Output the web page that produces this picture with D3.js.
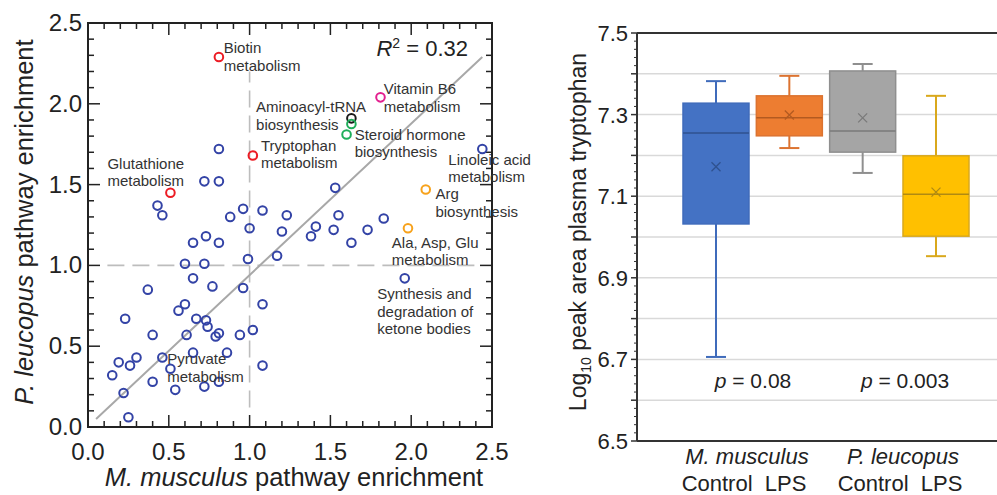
<!DOCTYPE html>
<html><head><meta charset="utf-8">
<script src="https://cdn.jsdelivr.net/npm/d3@7"></script>
<style>
html,body{margin:0;padding:0;background:#fff;}
svg{display:block;font-family:"Liberation Sans",Arial,Helvetica,sans-serif;}
</style></head>
<body><svg id="c" width="997" height="495"></svg>
<script>
// ---------- Left panel data: pathway enrichment ----------
const scatterX = [0.81,1.81,1.63,1.63,1.60,1.02,0.51,2.09,1.98,2.44,1.96,
  0.81,0.72,0.81,1.53,0.43,0.46,0.88,0.96,1.08,1.23,1.00,1.20,0.65,0.73,0.81,1.38,1.41,1.52,1.55,1.63,1.73,1.83,
  0.60,0.72,0.99,1.17,0.65,0.77,0.37,0.96,1.08,0.23,0.56,0.60,0.67,0.73,0.74,0.40,0.61,0.79,0.81,0.94,1.02,
  0.19,0.26,0.30,0.46,0.65,0.86,0.51,1.08,0.15,0.40,0.54,0.72,0.81,0.22,0.25];
const scatterY = [2.29,2.04,1.91,1.875,1.81,1.68,1.45,1.47,1.23,1.72,0.92,
  1.72,1.52,1.52,1.48,1.37,1.31,1.30,1.35,1.34,1.31,1.23,1.21,1.14,1.18,1.14,1.18,1.24,1.22,1.31,1.14,1.22,1.29,
  1.01,1.01,1.04,1.06,0.92,0.87,0.85,0.86,0.76,0.67,0.72,0.76,0.67,0.66,0.62,0.57,0.57,0.56,0.58,0.57,0.60,
  0.40,0.38,0.43,0.43,0.46,0.46,0.36,0.38,0.32,0.28,0.23,0.25,0.28,0.21,0.06];
const scatterGroup = ["red","magenta","black","green","green","red","red","orange","orange","blue","blue"]
  .concat(new Array(58).fill("blue"));
const fitLineX = [0.05, 2.44];
const fitLineY = [0.05, 2.29];
const refValue = 1.0;
const rSquared = "0.32";
const scatterTicks = [0, 0.5, 1.0, 1.5, 2.0, 2.5];
const labelText = [["Biotin","metabolism"],["Vitamin B6","metabolism"],["Aminoacyl-tRNA","biosynthesis"],
  ["Steroid hormone","biosynthesis"],["Tryptophan","metabolism"],["Glutathione","metabolism"],
  ["Linoleic acid","metabolism"],["Arg","biosynthesis"],["Ala, Asp, Glu","metabolism"],
  ["Synthesis and","degradation of","ketone bodies"],["Pyruvate","metabolism"]];
const labelX = [0.84,1.83,1.04,1.65,1.07,0.12,2.23,2.15,1.88,1.79,0.49];
const labelY = [2.345,2.09,1.98,1.81,1.74,1.63,1.655,1.44,1.14,0.82,0.42];

// ---------- Right panel data: plasma tryptophan ----------
const boxCats = ["M. musculus Control","M. musculus LPS","P. leucopus Control","P. leucopus LPS"];
const whiskLow  = [6.706, 7.218, 7.157, 6.953];
const q1        = [7.032, 7.248, 7.208, 7.002];
const median    = [7.255, 7.292, 7.260, 7.105];
const q3        = [7.328, 7.346, 7.407, 7.199];
const whiskHigh = [7.382, 7.395, 7.424, 7.346];
const meanVal   = [7.172, 7.299, 7.292, 7.110];
const boxTicks = [6.5, 6.7, 6.9, 7.1, 7.3, 7.5];
const pValues = ["0.08", "0.003"];
const species = ["M. musculus", "P. leucopus"];
const treatments = ["Control", "LPS"];

// ---------- Drawing ----------
const svg = d3.select("#c");
const font = "#222";

// ===== Left panel =====
const x = d3.scaleLinear().domain([0, 2.5]).range([88, 492]);
const y = d3.scaleLinear().domain([0, 2.5]).range([427, 23]);
const L = svg.append("g");

const colorMap = {blue:"#3343a6", red:"#ec1c24", magenta:"#e3208f", black:"#1a1a1a", green:"#1fae5a", orange:"#f7a21c"};

// dashed reference lines
L.append("line").attr("x1", x(0.12)).attr("x2", x(2.4)).attr("y1", y(refValue)).attr("y2", y(refValue))
  .attr("stroke", "#bdbdbd").attr("stroke-width", 1.6).attr("stroke-dasharray", "17,8");
L.append("line").attr("x1", x(refValue)).attr("x2", x(refValue)).attr("y1", y(0.12)).attr("y2", y(2.2))
  .attr("stroke", "#bdbdbd").attr("stroke-width", 1.6).attr("stroke-dasharray", "17,8");

// fit line
L.append("line").attr("x1", x(fitLineX[0])).attr("y1", y(fitLineY[0]))
  .attr("x2", x(fitLineX[1])).attr("y2", y(fitLineY[1]))
  .attr("stroke", "#a8a8a8").attr("stroke-width", 2);

// frame ticks (inward, all sides)
const minor = d3.range(0, 2.5001, 0.1).map(v => +v.toFixed(2));
const isMajor = v => Math.abs(v * 2 - Math.round(v * 2)) < 1e-6;
minor.forEach(v => {
  const len = isMajor(v) ? 12 : 6;
  L.append("line").attr("x1", x(v)).attr("x2", x(v)).attr("y1", y(0)).attr("y2", y(0) - len).attr("stroke", font).attr("stroke-width", 1.5);
  L.append("line").attr("x1", x(v)).attr("x2", x(v)).attr("y1", y(2.5)).attr("y2", y(2.5) + len).attr("stroke", font).attr("stroke-width", 1.5);
  L.append("line").attr("y1", y(v)).attr("y2", y(v)).attr("x1", x(0)).attr("x2", x(0) + len).attr("stroke", font).attr("stroke-width", 1.5);
  L.append("line").attr("y1", y(v)).attr("y2", y(v)).attr("x1", x(2.5)).attr("x2", x(2.5) - len).attr("stroke", font).attr("stroke-width", 1.5);
});
L.append("rect").attr("x", x(0)).attr("y", y(2.5)).attr("width", x(2.5) - x(0)).attr("height", y(0) - y(2.5))
  .attr("fill", "none").attr("stroke", font).attr("stroke-width", 2);

// tick labels
scatterTicks.forEach(v => {
  L.append("text").attr("x", x(v)).attr("y", y(0) + 33).attr("text-anchor", "middle")
    .attr("font-size", 24).attr("fill", font).text(v.toFixed(1));
  L.append("text").attr("x", x(0) - 6).attr("y", y(v) + 8).attr("text-anchor", "end")
    .attr("font-size", 24).attr("fill", font).text(v.toFixed(1));
});

// axis titles
const xt = L.append("text").attr("x", 294).attr("y", 486).attr("text-anchor", "middle").attr("font-size", 25.5).attr("fill", font);
xt.append("tspan").attr("font-style", "italic").text("M. musculus");
xt.append("tspan").text(" pathway enrichment");
const yt = L.append("text").attr("transform", "translate(33,222) rotate(-90)").attr("text-anchor", "middle").attr("font-size", 25.5).attr("fill", font);
yt.append("tspan").attr("font-style", "italic").text("P. leucopus");
yt.append("tspan").text(" pathway enrichment");

// R^2
const rt = L.append("text").attr("x", 468).attr("y", 56).attr("text-anchor", "end").attr("font-size", 22).attr("fill", font);
rt.append("tspan").attr("font-style", "italic").text("R");
rt.append("tspan").attr("font-size", 14).attr("dy", -8).text("2");
rt.append("tspan").attr("dy", 8).text(" = " + rSquared);

// points
L.selectAll("circle.pt").data(scatterX.map((v, i) => ({x: v, y: scatterY[i], g: scatterGroup[i]})))
  .enter().append("circle").attr("class", "pt")
  .attr("cx", d => x(d.x)).attr("cy", d => y(d.y)).attr("r", 4.3)
  .attr("fill", "none").attr("stroke", d => colorMap[d.g]).attr("stroke-width", 2);

// labels
labelText.forEach((lines, i) => {
  const t = L.append("text").attr("x", x(labelX[i])).attr("y", y(labelY[i]) + 5)
    .attr("font-size", 15).attr("fill", "#333");
  lines.forEach((s, j) => t.append("tspan").attr("x", x(labelX[i])).attr("dy", j === 0 ? 0 : 17.5).text(s));
});

// ===== Right panel =====
const yb = d3.scaleLinear().domain([6.5, 7.5]).range([441, 33]);
const xb = d3.scalePoint().domain(boxCats).range([716, 936]);
const R = svg.append("g");
const left = 637, right = 997;

// gridlines
d3.range(6.6, 7.45, 0.1).forEach(v => {
  R.append("line").attr("x1", left).attr("x2", right).attr("y1", yb(v)).attr("y2", yb(v))
    .attr("stroke", "#d9d9d9").attr("stroke-width", 1.5);
});
R.append("line").attr("x1", left).attr("x2", right).attr("y1", yb(7.5)).attr("y2", yb(7.5)).attr("stroke", "#333").attr("stroke-width", 2);
R.append("line").attr("x1", left).attr("x2", right).attr("y1", yb(6.5)).attr("y2", yb(6.5)).attr("stroke", "#333").attr("stroke-width", 2);

// left axis with minor ticks
d3.range(0, 51).forEach(i => {
  const v = 6.5 + i * 0.02;
  const maj = i % 5 === 0;
  R.append("line").attr("x1", left).attr("x2", left - (maj ? 6 : 3)).attr("y1", yb(v)).attr("y2", yb(v))
    .attr("stroke", "#333").attr("stroke-width", maj ? 1.5 : 1);
});
R.append("line").attr("x1", left).attr("x2", left).attr("y1", yb(7.5)).attr("y2", yb(6.5)).attr("stroke", "#333").attr("stroke-width", 2);
boxTicks.forEach(v => {
  R.append("text").attr("x", left - 9).attr("y", yb(v) + 8).attr("text-anchor", "end")
    .attr("font-size", 22).attr("fill", font).text(v.toFixed(1));
});

// y title
const ybt = R.append("text").attr("transform", "translate(586,232) rotate(-90)").attr("text-anchor", "middle")
  .attr("font-size", 23).attr("fill", font);
ybt.append("tspan").text("Log");
ybt.append("tspan").attr("font-size", 14).attr("dy", 5).text("10");
ybt.append("tspan").attr("dy", -5).text(" peak area plasma tryptophan");

// boxes
const fills   = ["#4472c4", "#ed7d31", "#a5a5a5", "#ffc000"];
const strokes = ["#3f6bbb", "#dc7330", "#8f8f8f", "#d9a81c"];
const marks   = ["#2f528f", "#b35a20", "#7a7a7a", "#b08a12"];
const bw = 66, cap = 20;
boxCats.forEach((c, i) => {
  const cx = xb(c);
  const g = R.append("g");
  g.append("line").attr("x1", cx).attr("x2", cx).attr("y1", yb(whiskHigh[i])).attr("y2", yb(q3[i])).attr("stroke", strokes[i]).attr("stroke-width", 2);
  g.append("line").attr("x1", cx).attr("x2", cx).attr("y1", yb(q1[i])).attr("y2", yb(whiskLow[i])).attr("stroke", strokes[i]).attr("stroke-width", 2);
  g.append("line").attr("x1", cx - cap / 2).attr("x2", cx + cap / 2).attr("y1", yb(whiskHigh[i])).attr("y2", yb(whiskHigh[i])).attr("stroke", strokes[i]).attr("stroke-width", 2);
  g.append("line").attr("x1", cx - cap / 2).attr("x2", cx + cap / 2).attr("y1", yb(whiskLow[i])).attr("y2", yb(whiskLow[i])).attr("stroke", strokes[i]).attr("stroke-width", 2);
  g.append("rect").attr("x", cx - bw / 2).attr("y", yb(q3[i])).attr("width", bw).attr("height", yb(q1[i]) - yb(q3[i]))
    .attr("fill", fills[i]).attr("stroke", strokes[i]).attr("stroke-width", 1.5);
  g.append("line").attr("x1", cx - bw / 2).attr("x2", cx + bw / 2).attr("y1", yb(median[i])).attr("y2", yb(median[i])).attr("stroke", marks[i]).attr("stroke-width", 1.5);
  const my = yb(meanVal[i]), s = 4.5;
  g.append("path").attr("d", `M${cx - s},${my - s}L${cx + s},${my + s}M${cx - s},${my + s}L${cx + s},${my - s}`)
    .attr("stroke", marks[i]).attr("stroke-width", 1.3).attr("fill", "none");
});

// p-values
const pCenters = [753, 905];
pValues.forEach((p, k) => {
  const t = R.append("text").attr("x", pCenters[k]).attr("y", 388).attr("text-anchor", "middle").attr("font-size", 21).attr("fill", font);
  t.append("tspan").attr("font-style", "italic").text("p");
  t.append("tspan").text(" = " + p);
});

// category labels
const spCenters = [747, 903];
species.forEach((s, k) => {
  R.append("text").attr("x", spCenters[k]).attr("y", 464).attr("text-anchor", "middle").attr("font-size", 22)
    .attr("font-style", "italic").attr("fill", font).text(s);
  R.append("text").attr("x", spCenters[k] - 3).attr("y", 491).attr("text-anchor", "middle").attr("font-size", 22)
    .attr("fill", font).attr("xml:space", "preserve").text(treatments[0] + "  " + treatments[1]);
});
</script></body></html>
